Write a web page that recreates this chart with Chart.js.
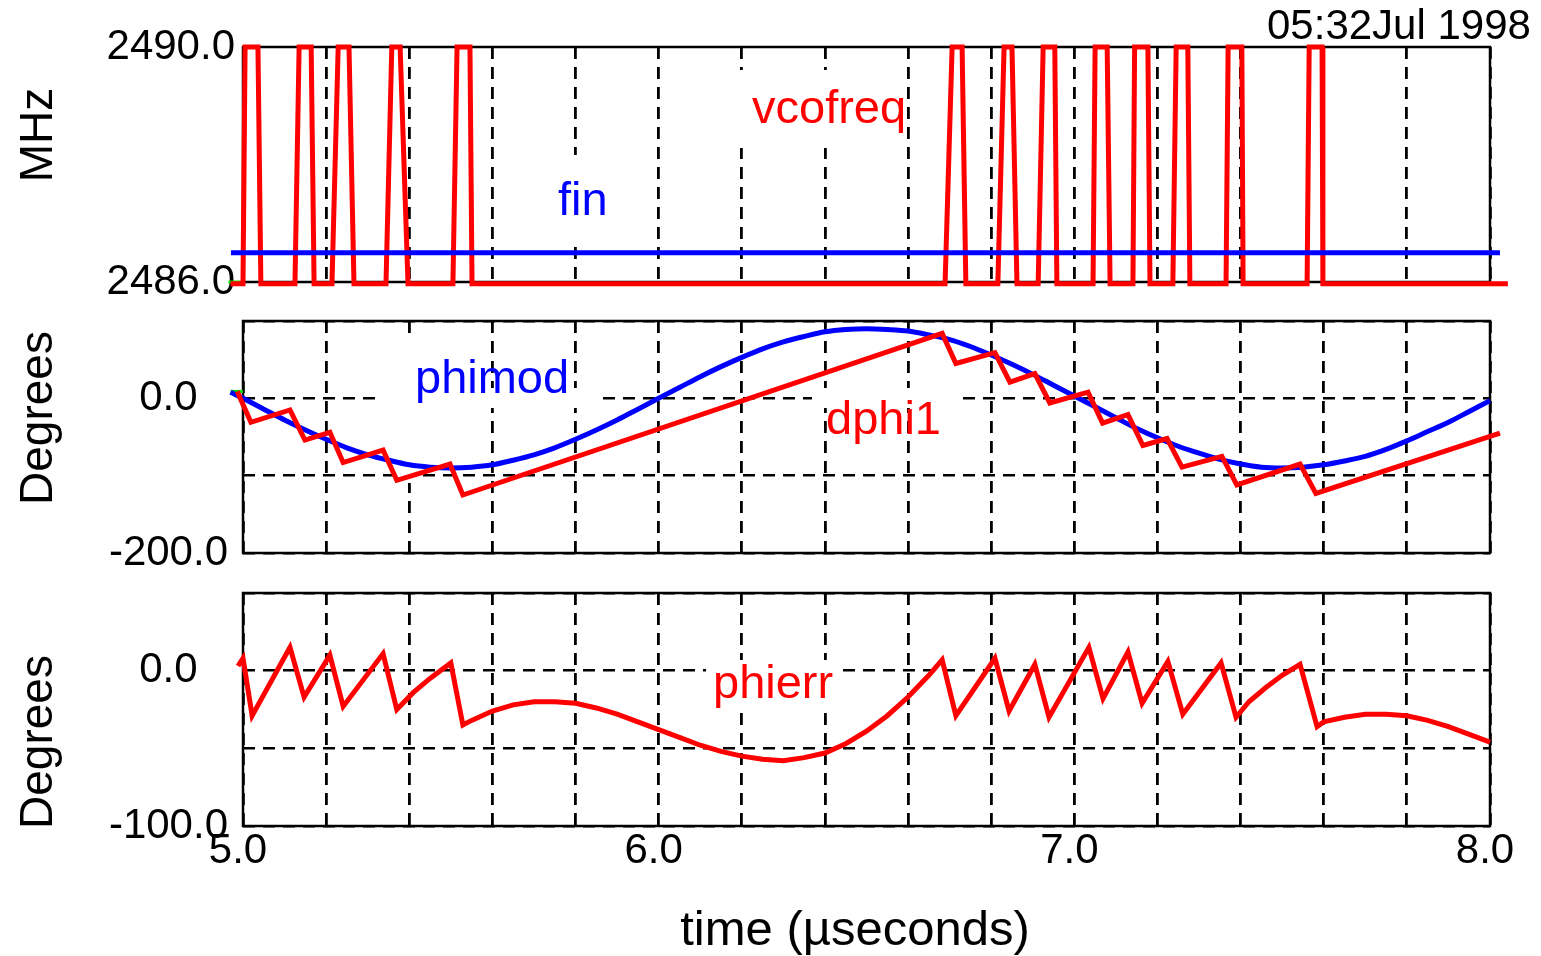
<!DOCTYPE html>
<html>
<head>
<meta charset="utf-8">
<title>vcofreq / phimod / phierr</title>
<script src="https://cdn.jsdelivr.net/npm/chart.js@4.4.0/dist/chart.umd.min.js"></script>
<style>
  body { margin: 0; background: #fff; }
  #wrap { position: relative; width: 1541px; height: 956px; overflow: hidden; }
  #wrap canvas { position: absolute; left: 0; top: 0; }
</style>
</head>
<body>
<div id="wrap">
  <canvas id="grafico1" width="1541" height="956"></canvas>
  <canvas id="grafico2" width="1541" height="956"></canvas>
  <canvas id="grafico3" width="1541" height="956"></canvas>
</div>
<script>
const FONT = "'Liberation Sans', Arial, Helvetica, sans-serif";
Chart.defaults.font.family = FONT;
Chart.defaults.color = '#000';

// tick labels
const xLabels = [5, 6, 7, 8];
const yLabels1 = [2486, 2490];
const yLabels2 = [-200, 0];
const yLabels3 = [-100, 0];

// panel 1 (MHz)
const vcoTime = [4.970,
  5.000, 5.005, 5.036, 5.043,
  5.125, 5.135, 5.164, 5.171,
  5.214, 5.229, 5.255, 5.267,
  5.344, 5.358, 5.378, 5.397,
  5.505, 5.515, 5.546, 5.551,
  6.689, 6.706, 6.730, 6.739,
  6.816, 6.831, 6.850, 6.862,
  6.913, 6.925, 6.953, 6.958,
  7.045, 7.050, 7.079, 7.086,
  7.141, 7.145, 7.177, 7.182,
  7.237, 7.245, 7.273, 7.278,
  7.365, 7.370, 7.403, 7.406,
  7.560, 7.565, 7.596, 7.598,
  8.043];
const vcoMHz = [2485.97,
  2485.97, 2490, 2490, 2485.97,
  2485.97, 2490, 2490, 2485.97,
  2485.97, 2490, 2490, 2485.97,
  2485.97, 2490, 2490, 2485.97,
  2485.97, 2490, 2490, 2485.97,
  2485.97, 2490, 2490, 2485.97,
  2485.97, 2490, 2490, 2485.97,
  2485.97, 2490, 2490, 2485.97,
  2485.97, 2490, 2490, 2485.97,
  2485.97, 2490, 2490, 2485.97,
  2485.97, 2490, 2490, 2485.97,
  2485.97, 2490, 2490, 2485.97,
  2485.97, 2490, 2490, 2485.97,
  2485.97];
const finTime = [4.971, 8.024];
const finMHz = [2486.5, 2486.5];
const greenTime1 = [4.965, 5.0];
const greenMHz = [2486.0, 2486.0];

// panel 2 (Degrees)
const phimodTime = [4.97, 5.0, 5.05, 5.1, 5.15, 5.2, 5.25, 5.3, 5.35, 5.4, 5.45, 5.5,
  5.55, 5.6, 5.65, 5.7, 5.75, 5.8, 5.85, 5.9, 5.95, 6.0,
  6.05, 6.1, 6.15, 6.2, 6.25, 6.3, 6.35, 6.4, 6.45, 6.5,
  6.55, 6.6, 6.65, 6.7, 6.75, 6.8, 6.85, 6.9, 6.95, 7.0,
  7.05, 7.1, 7.15, 7.2, 7.25, 7.3, 7.35, 7.4, 7.45, 7.5,
  7.55, 7.6, 7.65, 7.7, 7.75, 7.8, 7.85, 7.9, 7.95, 8.0, 8.025];
const phimodDeg = [8, 0, -14, -28, -41, -53, -64, -73, -80, -86, -89, -90,
  -89, -86, -80, -73, -64, -53, -41, -28, -14, 0,
  14, 28, 41, 53, 64, 73, 80, 86, 89, 90,
  89, 87, 82, 76, 67, 56, 44, 31, 17, 3,
  -11, -25, -39, -51, -62, -71, -79, -85, -89, -90,
  -89, -86, -81, -75, -66, -55, -43, -31, -17, -3, 4];
const dphiTime = [4.974, 4.986, 5.019, 5.113, 5.149, 5.209, 5.241, 5.337, 5.370, 5.498, 5.529,
  6.682, 6.715, 6.809, 6.845, 6.905, 6.941, 7.033, 7.068, 7.129, 7.165,
  7.223, 7.259, 7.355, 7.391, 7.543, 7.581, 8.024];
const dphiDeg = [10, 9, -31, -15, -54, -44, -83, -67, -106, -85, -125,
  84, 45, 59, 21, 32, -6, 8, -32, -21, -61,
  -52, -89, -75, -112, -85, -123, -45];
const greenTime2 = [4.97, 5.0];
const greenDeg = [9, 9];

// panel 3 (Degrees)
const phierrTime = [4.969, 4.988, 5.0, 5.022, 5.113, 5.147, 5.209, 5.241, 5.337, 5.370,
  5.41, 5.45, 5.500, 5.529,
  5.55, 5.6, 5.65, 5.7, 5.75, 5.8, 5.85, 5.9, 5.95, 6.0, 6.05, 6.1, 6.15, 6.2, 6.25,
  6.3, 6.35, 6.4, 6.45, 6.5, 6.55, 6.6, 6.65,
  6.682, 6.715, 6.809, 6.843, 6.905, 6.939, 7.035, 7.069, 7.129, 7.163, 7.225, 7.261,
  7.353, 7.389, 7.42, 7.46, 7.5, 7.543, 7.584,
  7.6, 7.65, 7.7, 7.75, 7.8, 7.85, 7.9, 7.95, 8.0, 8.024];
const phierrDeg = [-6, 3, 8, -29, 15, -17, 10, -23, 11, -25,
  -14, -5, 5, -35,
  -32, -26, -22, -20, -20, -21, -24, -28, -33, -38, -43, -48, -52, -55, -57,
  -58, -56, -53, -47, -39, -29, -17, -3,
  7, -29, 8, -26, 4, -30, 15, -18, 12, -21, 6, -28,
  5, -30, -20, -11, -3, 4, -36,
  -33, -30, -28, -28, -29, -32, -36, -41, -46, -48];

const RED = '#ff0000', BLUE = '#0000ff', GREEN = '#00e000';

function pts(xs, ys) {
  return xs.map(function (x, i) { return { x: x, y: ys[i] }; });
}

function lineSet(label, xs, ys, color, smooth, width) {
  return {
    label: label,
    data: pts(xs, ys),
    borderColor: color,
    borderWidth: width || 5,
    pointRadius: 0,
    cubicInterpolationMode: smooth ? 'monotone' : 'default',
    tension: 0,
    borderJoinStyle: 'miter',
    fill: false,
    clip: false
  };
}

// empty string (not null) keeps the grid line of an unlabelled tick
function xAxis(showLabels, h) {
  return {
    type: 'linear', min: 5, max: 8,
    afterFit: function (s) { s.height = h; },
    border: { display: false, dash: [12, 8] },
    grid: { color: '#000', lineWidth: 2.8, drawTicks: false },
    ticks: {
      display: showLabels, stepSize: 0.2, maxTicksLimit: 100, autoSkip: false, maxRotation: 0,
      padding: 0, labelOffset: -5, font: { size: 42 },
      callback: function (v) {
        const r = Math.round(v * 10) / 10;
        return xLabels.includes(r) ? r.toFixed(1) : '';
      }
    }
  };
}

function yAxis(min, max, step, labels, pad, showGrid) {
  return {
    min: min, max: max,
    afterFit: function (s) { s.width = 243; },
    border: { display: false, dash: [12, 8] },
    grid: { display: showGrid, color: '#000', lineWidth: 2.5, drawTicks: false },
    ticks: {
      stepSize: step, maxTicksLimit: 100, crossAlign: 'center', padding: pad, font: { size: 42 },
      callback: function (v) { return labels.includes(v) ? v.toFixed(1) : ''; }
    }
  };
}

// label texts and white patches behind them (page pixels)
const decor = {
  grafico1: {
    masks: [[560, 155, 32, 87], [730, 70, 110, 78]],
    texts: [
      { text: 'vcofreq', x: 752, y: 123, color: RED, size: 47 },
      { text: 'fin', x: 558, y: 215, color: BLUE, size: 47 },
      { text: '05:32Jul 1998', x: 1267, y: 39, size: 42 },
      { text: 'MHz', x: 52, y: 135, size: 46, rot: true, align: 'center' }
    ]
  },
  grafico2: {
    masks: [[376, 388, 220, 20], [400, 337, 20, 146], [812, 388, 146, 20]],
    texts: [
      { text: 'phimod', x: 415, y: 393, color: BLUE, size: 47 },
      { text: 'dphi1', x: 826, y: 434, color: RED, size: 47 },
      { text: 'Degrees', x: 52, y: 418, size: 46, rot: true, align: 'center' }
    ]
  },
  grafico3: {
    masks: [[706, 660, 134, 50]],
    texts: [
      { text: 'phierr', x: 713, y: 698, color: RED, size: 47 },
      { text: 'Degrees', x: 52, y: 742, size: 46, rot: true, align: 'center' },
      { text: 'time (\u00b5seconds)', x: 855, y: 945, size: 49, align: 'center' }
    ]
  }
};

const panelDeco = {
  id: 'panelDeco',
  beforeDatasetsDraw: function (chart) {
    const ctx = chart.ctx, a = chart.chartArea, d = decor[chart.canvas.id];
    ctx.save();
    ctx.fillStyle = '#fff';
    d.masks.forEach(function (m) { ctx.fillRect(m[0], m[1], m[2], m[3]); });
    ctx.strokeStyle = '#000';
    ctx.lineWidth = 2.5;
    ctx.strokeRect(a.left, a.top, a.right - a.left, a.bottom - a.top);
    ctx.restore();
  },
  afterDraw: function (chart) {
    const ctx = chart.ctx, d = decor[chart.canvas.id];
    d.texts.forEach(function (t) {
      ctx.save();
      ctx.font = t.size + 'px ' + FONT;
      ctx.fillStyle = t.color || '#000';
      ctx.textAlign = t.align || 'left';
      ctx.textBaseline = 'alphabetic';
      ctx.translate(t.x, t.y);
      if (t.rot) ctx.rotate(-Math.PI / 2);
      ctx.fillText(t.text, 0, 0);
      ctx.restore();
    });
  }
};

function makeChart(id, datasets, top, bottom, xa, ya, xh) {
  return new Chart(document.getElementById(id).getContext('2d'), {
    type: 'line',
    data: { datasets: datasets },
    options: {
      responsive: false,
      animation: false,
      events: [],
      devicePixelRatio: 1,
      layout: { padding: { left: 0, right: 1541 - 1490, top: top, bottom: 956 - bottom - xh } },
      plugins: { legend: { display: false }, tooltip: { enabled: false } },
      scales: { x: xa, y: ya }
    },
    plugins: [panelDeco]
  });
}

// first dataset is drawn on top
makeChart('grafico1', [
  lineSet('fin', finTime, finMHz, BLUE, false),
  lineSet('vcofreq', vcoTime, vcoMHz, RED, false),
  lineSet('g', greenTime1, greenMHz, GREEN, false, 3)
], 47, 282, xAxis(false, 0), yAxis(2486, 2490, 4, yLabels1, 8, false), 0);

makeChart('grafico2', [
  lineSet('dphi1', dphiTime, dphiDeg, RED, false),
  lineSet('phimod', phimodTime, phimodDeg, BLUE, true),
  lineSet('g', greenTime2, greenDeg, GREEN, false, 3)
], 321, 553, xAxis(false, 0), yAxis(-200, 100, 100, yLabels2, 15, true), 0);

makeChart('grafico3', [
  lineSet('phierr', phierrTime, phierrDeg, RED, false)
], 593, 826, xAxis(true, 60), yAxis(-100, 50, 50, yLabels3, 15, true), 60);
</script>
</body>
</html>
